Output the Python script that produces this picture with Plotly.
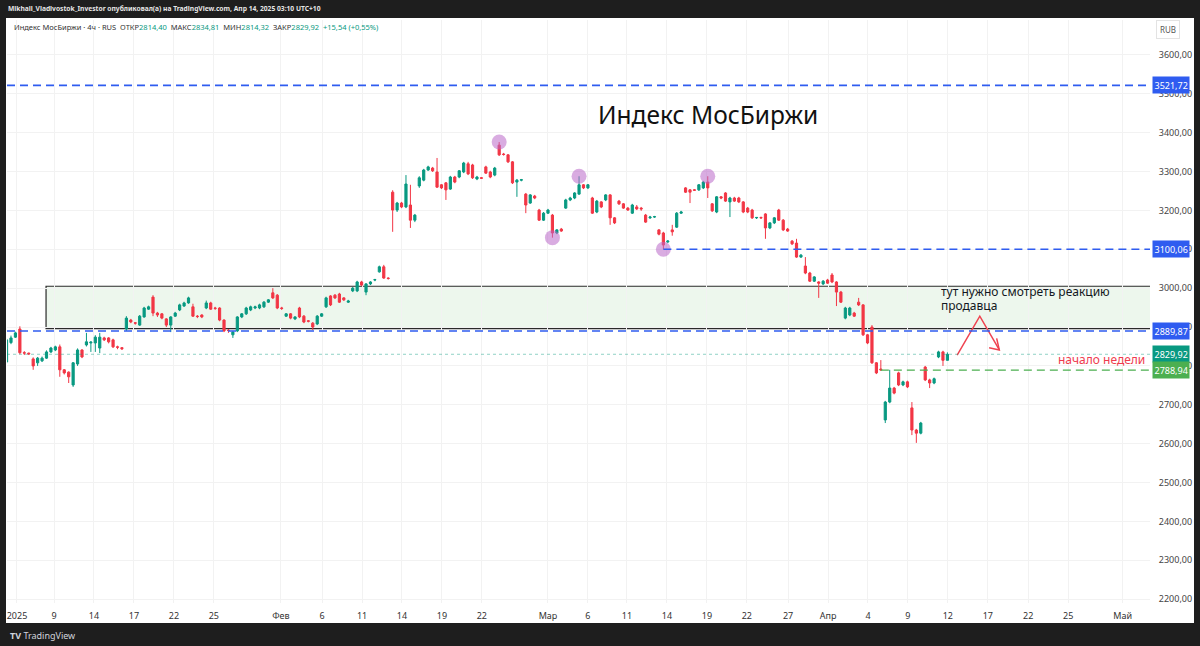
import plotly.graph_objects as go

# ---------------- data (4h candles, bar index order) ----------------
opens = [2810, 2860, 2874, 2895, 2834, 2833, 2818, 2808, 2813, 2820, 2836, 2841, 2849, 2790, 2784, 2751, 2805, 2841, 2854, 2859,
         2859, 2846, 2872, 2872, 2867, 2849, 2847, 2895, 2918, 2911, 2905, 2926, 2946, 2977, 2936, 2934, 2921, 2905, 2928, 2944,
         2954, 2962, 2952, 2928, 2931, 2949, 2962, 2949, 2949, 2918, 2892, 2880, 2890, 2926, 2934, 2944, 2949, 2949, 2952, 2964,
         2988, 2982, 2949, 2928, 2934, 2921, 2949, 2928, 2916, 2910, 2908, 2928, 2952, 2980, 2982, 2985, 2975, 2964, 2993, 2993,
         3016, 2990, 3011, 3021, 3042, 3055, 3026, 3247, 3201, 3219, 3209, 3214, 3175, 3263, 3278, 3304, 3309, 3299, 3266, 3271,
         3255, 3286, 3286, 3299, 3320, 3317, 3281, 3284, 3312, 3299, 3291, 3368, 3345, 3343, 3325, 3273, 3278, 3242, 3219, 3237,
         3201, 3175, 3193, 3188, 3142, 3152, 3206, 3227, 3232, 3242, 3266, 3258, 3232, 3196, 3222, 3227, 3240, 3181, 3224, 3217,
         3206, 3193, 3209, 3206, 3188, 3181, 3183, 3150, 3142, 3119, 3150, 3157, 3193, 3258, 3253, 3253, 3253, 3258, 3273, 3217,
         3196, 3235, 3245, 3222, 3232, 3232, 3222, 3206, 3201, 3181, 3182, 3191, 3155, 3168, 3201, 3175, 3152, 3121, 3116, 3080,
         3057, 3039, 3018, 3016, 3011, 3021, 3034, 3016, 2990, 2923, 2931, 2936, 2964, 2957, 2880, 2900, 2808, 2792, 2661, 2707,
         2743, 2782, 2751, 2759, 2692, 2635, 2627, 2797, 2764, 2756, 2823, 2836, 2814.40]
highs = [2872, 2878, 2888, 2902, 2838, 2834, 2822, 2823, 2824, 2840, 2849, 2852, 2855, 2792, 2786, 2810, 2845, 2843, 2885, 2864,
         2879, 2885, 2875, 2874, 2870, 2852, 2848, 2928, 2921, 2913, 2931, 2952, 2955, 2982, 2939, 2936, 2923, 2928, 2939, 2960,
         2965, 2978, 2960, 2931, 2933, 2968, 2965, 2952, 2951, 2920, 2895, 2890, 2928, 2936, 2952, 2955, 2955, 2960, 2967, 2972,
         3000, 2985, 2952, 2936, 2936, 2928, 2952, 2931, 2918, 2913, 2931, 2936, 2978, 2982, 2985, 2988, 2977, 2970, 3003, 3019,
         3019, 3013, 3018, 3024, 3058, 3060, 3028, 3252, 3222, 3222, 3291, 3266, 3191, 3288, 3307, 3315, 3312, 3335, 3268, 3273,
         3289, 3289, 3304, 3325, 3325, 3320, 3289, 3286, 3315, 3302, 3312, 3376, 3348, 3345, 3327, 3281, 3281, 3245, 3242, 3240,
         3204, 3196, 3204, 3191, 3152, 3155, 3230, 3235, 3247, 3288, 3268, 3268, 3235, 3227, 3224, 3242, 3242, 3183, 3227, 3219,
         3209, 3217, 3214, 3209, 3191, 3186, 3186, 3152, 3145, 3124, 3163, 3196, 3199, 3260, 3255, 3255, 3268, 3276, 3288, 3219,
         3237, 3237, 3247, 3235, 3235, 3235, 3224, 3209, 3204, 3183, 3184, 3193, 3170, 3183, 3204, 3178, 3155, 3124, 3127, 3088,
         3080, 3042, 3031, 3018, 3021, 3024, 3039, 3018, 2993, 2952, 2952, 2939, 2975, 2959, 2882, 2905, 2810, 2815, 2710, 2790,
         2746, 2785, 2762, 2762, 2707, 2638, 2656, 2800, 2767, 2770, 2839, 2839, 2834.81]
lows = [2805, 2856, 2872, 2830, 2828, 2828, 2790, 2800, 2810, 2818, 2833, 2838, 2772, 2778, 2756, 2746, 2800, 2820, 2850, 2836,
        2836, 2833, 2864, 2858, 2846, 2843, 2841, 2890, 2910, 2906, 2903, 2924, 2944, 2928, 2926, 2920, 2900, 2887, 2926, 2941,
        2952, 2960, 2926, 2923, 2923, 2946, 2944, 2944, 2915, 2887, 2885, 2872, 2887, 2923, 2931, 2941, 2946, 2946, 2949, 2962,
        2972, 2946, 2944, 2926, 2920, 2918, 2923, 2910, 2912, 2892, 2905, 2926, 2949, 2954, 2972, 2962, 2967, 2962, 2990, 2990,
        3005, 2982, 3008, 3018, 3040, 3024, 3022, 3145, 3196, 3206, 3206, 3155, 3170, 3258, 3275, 3302, 3299, 3258, 3255, 3227,
        3253, 3270, 3283, 3296, 3291, 3281, 3278, 3281, 3294, 3283, 3288, 3340, 3341, 3322, 3268, 3235, 3275, 3193, 3217, 3229,
        3173, 3173, 3191, 3130, 3139, 3145, 3204, 3224, 3229, 3240, 3255, 3255, 3191, 3193, 3206, 3224, 3163, 3165, 3214, 3204,
        3199, 3191, 3201, 3199, 3168, 3178, 3181, 3136, 3100, 3116, 3135, 3155, 3191, 3245, 3219, 3250, 3250, 3255, 3232, 3196,
        3193, 3229, 3222, 3183, 3222, 3219, 3193, 3193, 3178, 3178, 3178, 3127, 3152, 3165, 3173, 3147, 3145, 3111, 3078, 3078,
        3036, 3016, 3016, 2975, 3008, 3011, 3013, 2954, 2962, 2920, 2928, 2926, 2954, 2877, 2856, 2805, 2779, 2787, 2653, 2704,
        2727, 2748, 2748, 2743, 2622, 2602, 2624, 2761, 2743, 2753, 2820, 2800, 2814.32]
closes = [2867, 2872, 2885, 2834, 2833, 2831, 2800, 2820, 2820, 2836, 2846, 2849, 2790, 2782, 2772, 2808, 2841, 2823, 2862, 2861,
          2874, 2874, 2867, 2862, 2849, 2848, 2844, 2923, 2913, 2910, 2928, 2949, 2952, 2936, 2931, 2923, 2905, 2926, 2936, 2957,
          2962, 2975, 2928, 2927, 2926, 2962, 2946, 2948, 2918, 2890, 2891, 2887, 2926, 2934, 2949, 2952, 2952, 2957, 2964, 2970,
          2975, 2949, 2948, 2934, 2923, 2926, 2926, 2913, 2915, 2900, 2928, 2934, 2975, 2957, 2975, 2964, 2970, 2967, 3000, 3016,
          3008, 3011, 3016, 3022, 3055, 3026, 3025, 3201, 3219, 3209, 3268, 3175, 3188, 3284, 3304, 3312, 3302, 3260, 3258, 3253,
          3286, 3273, 3302, 3322, 3294, 3284, 3286, 3283, 3296, 3286, 3309, 3343, 3344, 3325, 3271, 3278, 3279, 3214, 3240, 3232,
          3175, 3193, 3201, 3142, 3150, 3147, 3227, 3232, 3245, 3266, 3258, 3266, 3193, 3224, 3209, 3240, 3181, 3168, 3217, 3206,
          3201, 3214, 3204, 3204, 3170, 3183, 3184, 3139, 3111, 3121, 3145, 3193, 3196, 3247, 3247, 3252, 3266, 3273, 3258, 3199,
          3235, 3232, 3224, 3232, 3224, 3222, 3196, 3196, 3181, 3182, 3181, 3155, 3168, 3181, 3175, 3150, 3147, 3114, 3080, 3085,
          3039, 3018, 3029, 3013, 3018, 3013, 3016, 2990, 2964, 2949, 2949, 2928, 2957, 2880, 2859, 2808, 2782, 2790, 2707, 2743,
          2730, 2751, 2759, 2746, 2635, 2627, 2653, 2764, 2756, 2767, 2836, 2814.38, 2829.92]
bar_index = list(range(len(closes)))

# time axis labels (bar positions) and price axis labels
x_tick_pos = [2.35, 10.7, 19.7, 28.7, 37.7, 46.7, 61.8, 71.1, 80.1, 89.1, 98.1, 107.1, 122.0, 131.0, 139.8,
              148.8, 157.8, 166.8, 176.1, 185.1, 194.1, 203.1, 212.1, 221.1, 230.2, 239.2, 251.5]
x_tick_text = ["2025", "9", "14", "17", "22", "25", "Фев", "6", "11", "14", "19", "22", "Мар", "6", "11",
               "14", "19", "22", "27", "Апр", "4", "9", "12", "17", "22", "25", "Май"]
y_tick_vals = [2200, 2300, 2400, 2500, 2600, 2700, 2800, 2900, 3000, 3100, 3200, 3300, 3400, 3500, 3600]
y_tick_text = ["2200,00", "2300,00", "2400,00", "2500,00", "2600,00", "2700,00", "2800,00", "2900,00",
               "3000,00", "3100,00", "3200,00", "3300,00", "3400,00", "3500,00", "3600,00"]

# drawn levels
level_top = 3521.72
level_mid = 3100.06
level_mid_start = 148
level_box_low = 2889.87
level_week = 2788.94
level_week_start = 197
last_price = 2829.92
zone_low, zone_high, zone_start = 2896, 3005, 8.9
swing_bars = [111, 123, 129, 148, 158]
swing_kind = ["high", "low", "high", "low", "high"]
arrow_path_x = [214.2, 219.3, 223.7]
arrow_path_y = [2828, 2928, 2841]
arrow_head_x = [221.4, 223.7, 223.1]
arrow_head_y = [2847, 2841, 2871]

# ---------------- geometry helpers ----------------
PL, PR, PT, PB = 7, 1150, 20, 603
W, H = 1200, 646
X_RANGE = [0.1, 257.65]
Y_RANGE = [2190, 3690]


def px(xp):
    return (xp - PL) / (PR - PL)


def py(yp):
    return (PB - yp) / (PB - PT)


UP, DOWN = "#089981", "#f23645"
BLUE = "#2f5cf0"
FONT = "Noto Sans"

fig = go.Figure()

fig.add_trace(go.Candlestick(
    x=bar_index, open=opens, high=highs, low=lows, close=closes,
    increasing=dict(line=dict(color=UP, width=1), fillcolor=UP),
    decreasing=dict(line=dict(color=DOWN, width=1), fillcolor=DOWN),
    hoverinfo="skip", showlegend=False,
))

# swing circles
sx = [b for b in swing_bars]
sy = [highs[b] if k == "high" else lows[b] for b, k in zip(swing_bars, swing_kind)]
fig.add_trace(go.Scatter(x=sx, y=sy, mode="markers",
                         marker=dict(size=15, color="rgba(186,104,200,0.55)", line=dict(width=0)),
                         hoverinfo="skip", showlegend=False))

# red arrow
fig.add_trace(go.Scatter(x=arrow_path_x, y=arrow_path_y, mode="lines",
                         line=dict(color="#ef4350", width=1.5), hoverinfo="skip", showlegend=False))
fig.add_trace(go.Scatter(x=arrow_head_x, y=arrow_head_y, mode="lines",
                         line=dict(color="#ef4350", width=1.5), hoverinfo="skip", showlegend=False))

shapes = []
# white card behind everything
shapes.append(dict(type="rect", xref="paper", yref="paper", x0=px(6), x1=px(1194), y0=py(623), y1=py(18),
                   fillcolor="white", line=dict(width=0), layer="below"))
# zone rectangle
shapes.append(dict(type="rect", xref="x", yref="y", x0=zone_start, x1=X_RANGE[1] + 5, y0=zone_low, y1=zone_high,
                   fillcolor="rgba(76,175,80,0.10)", line=dict(color="#2a2a2a", width=1.2), layer="below"))
# levels
dash = "8px,5px"
shapes.append(dict(type="line", xref="x", yref="y", x0=X_RANGE[0], x1=X_RANGE[1], y0=level_top, y1=level_top,
                   line=dict(color=BLUE, width=1.6, dash=dash)))
shapes.append(dict(type="line", xref="x", yref="y", x0=level_mid_start, x1=X_RANGE[1], y0=level_mid, y1=level_mid,
                   line=dict(color=BLUE, width=1.6, dash=dash)))
shapes.append(dict(type="line", xref="x", yref="y", x0=X_RANGE[0], x1=X_RANGE[1], y0=level_box_low, y1=level_box_low,
                   line=dict(color=BLUE, width=1.6, dash=dash)))
shapes.append(dict(type="line", xref="x", yref="y", x0=level_week_start, x1=X_RANGE[1], y0=level_week, y1=level_week,
                   line=dict(color="#4caf50", width=1.3, dash=dash)))
shapes.append(dict(type="line", xref="x", yref="y", x0=X_RANGE[0], x1=X_RANGE[1], y0=last_price, y1=last_price,
                   line=dict(color="rgba(8,153,129,0.45)", width=1, dash="dot")))

annotations = []
# header strip
annotations.append(dict(xref="paper", yref="paper", x=px(6), y=py(8), xanchor="left", yanchor="middle",
                        text="<b>Mikhail_Vladivostok_Investor опубликовал(а) на TradingView.com, Апр 14, 2025 03:10 UTC+10</b>",
                        showarrow=False, font=dict(family=FONT, size=6.7, color="#e6e6e6")))
val = lambda s: "<span style='color:#089981'>" + s + "</span>"
legend_text = ("Индекс МосБиржи · 4ч · RUS  ОТКР" + val("2814,40") + "  МАКС" + val("2834,81") +
               "  МИН" + val("2814,32") + "  ЗАКР" + val("2829,92") + "  " + val("+15,54 (+0,55%)"))
annotations.append(dict(xref="paper", yref="paper", x=px(12), y=py(27), xanchor="left", yanchor="middle",
                        text=legend_text, showarrow=False, font=dict(family=FONT, size=7.5, color="#333333")))
# big title
annotations.append(dict(xref="paper", yref="paper", x=px(708), y=py(115), xanchor="center", yanchor="middle",
                        text="Индекс МосБиржи", showarrow=False, font=dict(family=FONT, size=24.5, color="#111111")))
# notes
annotations.append(dict(xref="paper", yref="paper", x=px(939), y=py(291), xanchor="left", yanchor="middle",
                        text="тут нужно смотреть реакцию", showarrow=False,
                        font=dict(family=FONT, size=12, color="#131722")))
annotations.append(dict(xref="paper", yref="paper", x=px(939), y=py(305), xanchor="left", yanchor="middle",
                        text="продавца", showarrow=False, font=dict(family=FONT, size=12, color="#131722")))
annotations.append(dict(xref="paper", yref="paper", x=px(1056), y=py(359), xanchor="left", yanchor="middle",
                        text="начало недели", showarrow=False, font=dict(family=FONT, size=12, color="#ef3b4e")))
# RUB
annotations.append(dict(xref="paper", yref="paper", x=px(1168), y=py(30), xanchor="center", yanchor="middle",
                        text="RUB", showarrow=False, font=dict(family=FONT, size=8, color="#555555"),
                        bordercolor="#e3e3e3", borderwidth=1, borderpad=3, bgcolor="white"))
# price labels
for price, color in [(level_top, BLUE), (level_mid, BLUE), (level_box_low, BLUE),
                     (last_price, UP), (level_week, "#4caf50")]:
    annotations.append(dict(xref="paper", yref="y", x=px(1171), y=price, xanchor="center", yanchor="middle",
                            text=("%.2f" % price).replace(".", ","), showarrow=False,
                            font=dict(family=FONT, size=9, color="white"), bgcolor=color, borderpad=1.5))
# logo
annotations.append(dict(xref="paper", yref="paper", x=px(8), y=py(635), xanchor="left", yanchor="middle",
                        text="<b>TV</b> TradingView", showarrow=False, font=dict(family=FONT, size=9, color="#d1d4dc")))

fig.update_layout(
    width=W, height=H,
    margin=dict(l=PL, r=W - PR, t=PT, b=H - PB),
    paper_bgcolor="#1e1e1e", plot_bgcolor="rgba(0,0,0,0)",
    shapes=shapes, annotations=annotations, showlegend=False,
    xaxis=dict(range=X_RANGE, tickvals=x_tick_pos, ticktext=x_tick_text, showgrid=True, gridcolor="#f2f2f2",
               gridwidth=1, zeroline=False, showline=False, ticks="outside", ticklen=4, tickcolor="rgba(0,0,0,0)",
               tickfont=dict(family=FONT, size=9, color="#333333"), rangeslider=dict(visible=False), fixedrange=True),
    yaxis=dict(range=Y_RANGE, side="right", tickvals=y_tick_vals, ticktext=y_tick_text, showgrid=True,
               gridcolor="#f2f2f2", gridwidth=1, zeroline=False, showline=False, ticks="outside", ticklen=6,
               tickcolor="rgba(0,0,0,0)", tickfont=dict(family=FONT, size=9, color="#444444"), fixedrange=True),
)

fig.write_html("out.html", config={"displayModeBar": False},
               post_script="document.body.style.margin='0';document.body.style.overflow='hidden';")
